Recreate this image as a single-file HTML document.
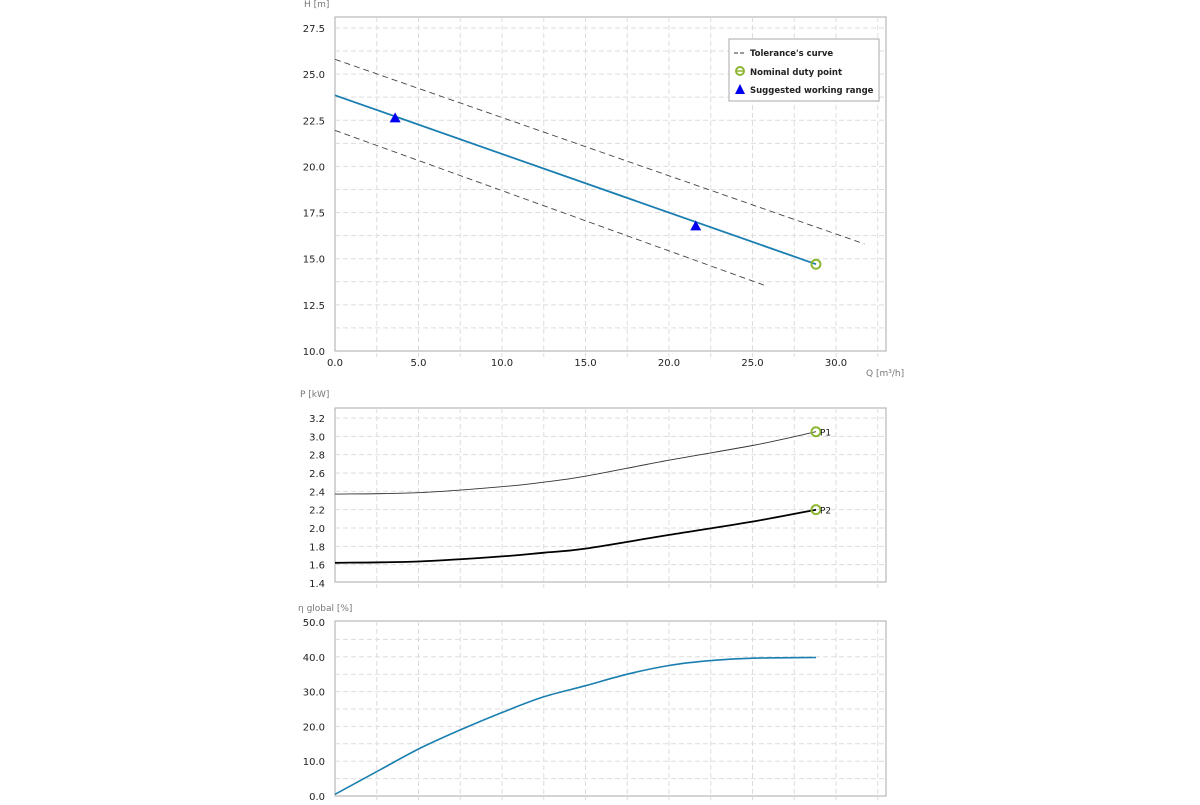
<!DOCTYPE html>
<html><head><meta charset="utf-8"><style>
body{margin:0;background:#fff;}
svg text{font-family:"DejaVu Sans","Liberation Sans",sans-serif;}
</style></head><body>
<svg id="s" width="1200" height="800" xmlns="http://www.w3.org/2000/svg"></svg>
<script>
const hQ=[0,28.8];
const hH=[23.85,14.7];
const tolUpQ=[0,31.7];
const tolUpH=[25.8,15.8];
const tolLoQ=[0,25.9];
const tolLoH=[21.95,13.5];
const rangeQ=[3.6,21.6];
const rangeH=[22.6,16.75];
const dutyQ=[28.8];
const dutyH=[14.7];
const pQ=[0,5,10,12.5,15,20,25,28.8];
const p1=[2.37,2.385,2.45,2.5,2.565,2.74,2.9,3.05];
const p2=[1.62,1.635,1.69,1.73,1.775,1.925,2.07,2.2];
const eQ=[0,2.5,5,7.5,10,12.5,15,17.5,20,22.5,25,28.8];
const eta=[0.5,7,13.5,19,24,28.5,31.7,35,37.5,38.9,39.6,39.8];
const xTicks=["0.0","5.0","10.0","15.0","20.0","25.0","30.0"];
const hTicks=["10.0","12.5","15.0","17.5","20.0","22.5","25.0","27.5"];
const pTicks=["1.4","1.6","1.8","2.0","2.2","2.4","2.6","2.8","3.0","3.2"];
const eTicks=["0.0","10.0","20.0","30.0","40.0","50.0"];

const NS="http://www.w3.org/2000/svg",S=document.getElementById('s');
function el(t,a,p){const e=document.createElementNS(NS,t);for(const k in a)e.setAttribute(k,a[k]);(p||S).appendChild(e);return e;}
const X=q=>335+q*16.7;
const L=335,R=886;
function panel(name,top,bot,y,ymin,ymax,minor,ticks,title,titleY){
  const g=el('g',{});
  el('rect',{x:L,y:top,width:R-L,height:bot-top,fill:'#fff',stroke:'#aaa','stroke-width':1},g);
  for(let q=2.5;q<33;q+=2.5){el('line',{x1:X(q),x2:X(q),y1:top,y2:bot+6,stroke:'#ddd','stroke-dasharray':'5,3'},g);}
  for(let v=ymin+minor;v<ymax+minor*1.5;v+=minor){const yy=y(v);if(yy>top+1&&yy<bot-1)el('line',{x1:L,x2:R,y1:yy,y2:yy,stroke:'#ddd','stroke-dasharray':'5,3'},g);}
  ticks.forEach(t=>{const tx=el('text',{x:325,y:y(parseFloat(t))+4,'font-size':10,'text-anchor':'end',fill:'#222'},g);tx.textContent=t;});
  const tt=el('text',{x:titleY[0],y:titleY[1],'font-size':9,fill:'#777'},g);tt.textContent=title;
  
  return g;
}
function poly(g,xs,ys,y,attrs,name,smooth){
  const P=xs.map((q,i)=>[X(q),y(ys[i])]);
  let d='M'+P[0][0].toFixed(1)+','+P[0][1].toFixed(1);
  for(let i=0;i<P.length-1;i++){
    if(!smooth){d+=' L'+P[i+1][0].toFixed(1)+','+P[i+1][1].toFixed(1);continue;}
    const p0=P[Math.max(i-1,0)],p1=P[i],p2=P[i+1],p3=P[Math.min(i+2,P.length-1)];
    const c1=[p1[0]+(p2[0]-p0[0])/6,p1[1]+(p2[1]-p0[1])/6],c2=[p2[0]-(p3[0]-p1[0])/6,p2[1]-(p3[1]-p1[1])/6];
    d+=` C${c1[0].toFixed(1)},${c1[1].toFixed(1)} ${c2[0].toFixed(1)},${c2[1].toFixed(1)} ${p2[0].toFixed(1)},${p2[1].toFixed(1)}`;
  }
  const p=el('path',Object.assign({d:d,fill:'none'},attrs),g);return p;}
function circ(g,q,v,y,name){const c=el('circle',{cx:X(q),cy:y(v),r:4.5,fill:'none',stroke:'#8db733','stroke-width':2},g);}

// H chart
const yH=v=>351-(v-10)*18.46;
const g1=panel('head',17,351,yH,10,28,1.25,hTicks,'H [m]',[304,7]);
xTicks.forEach(t=>{const tx=el('text',{x:X(parseFloat(t)),y:366,'font-size':10,'text-anchor':'middle',fill:'#222'},g1);tx.textContent=t;});
const qt=el('text',{x:866,y:376,'font-size':9,fill:'#777'},g1);qt.textContent='Q [m³/h]';
poly(g1,tolUpQ,tolUpH,yH,{stroke:'#444','stroke-dasharray':'6,4','stroke-width':0.9},'tolerance-upper');
poly(g1,tolLoQ,tolLoH,yH,{stroke:'#444','stroke-dasharray':'6,4','stroke-width':0.9},'tolerance-lower');
poly(g1,hQ,hH,yH,{stroke:'#1a7fb0','stroke-width':1.8},'head-curve');
rangeQ.forEach((q,i)=>{const x=X(q),yy=yH(rangeH[i]);const t=el('polygon',{points:`${x},${yy-6} ${x-5.5},${yy+4} ${x+5.5},${yy+4}`,fill:'#0000ee'},g1);});
dutyQ.forEach((q,i)=>circ(g1,q,dutyH[i],yH,'nominal-duty-point'));
const lg=el('g',{});
el('rect',{x:729,y:39,width:150,height:62,fill:'#fff',stroke:'#aaa'},lg);
el('line',{x1:734,x2:746,y1:53,y2:53,stroke:'#333','stroke-dasharray':'4,2'},lg);
el('circle',{cx:740,cy:71,r:4,fill:'none',stroke:'#8db733','stroke-width':2},lg);
el('line',{x1:736,x2:744,y1:71,y2:71,stroke:'#8db733','stroke-width':1.5},lg);
el('polygon',{points:'740,84 735,94 745,94',fill:'#0000ee'},lg);
[['Tolerance\'s curve',56],['Nominal duty point',75],['Suggested working range',93]].forEach(([t,yy])=>{const tx=el('text',{x:750,y:yy,'font-size':8.5,'font-weight':'bold',fill:'#222'},lg);tx.textContent=t;});

// P chart
const yP=v=>583-(v-1.4)*91.67;
const g2=panel('power',408,582,yP,1.4,3.3,0.2,pTicks,'P [kW]',[300,397]);
poly(g2,pQ,p1,yP,{stroke:'#333','stroke-width':0.9},'p1-curve',true);
poly(g2,pQ,p2,yP,{stroke:'#000','stroke-width':1.8},'p2-curve',true);
circ(g2,pQ[pQ.length-1],p1[p1.length-1],yP,'p1-duty-point');
circ(g2,pQ[pQ.length-1],p2[p2.length-1],yP,'p2-duty-point');
[['P1',p1],['P2',p2]].forEach(([n,a])=>{const tx=el('text',{x:X(pQ[pQ.length-1])+4,y:yP(a[a.length-1])+4,'font-size':9,fill:'#111'},g2);tx.textContent=n;});

// Efficiency chart
const yE=v=>796-v*3.48;
const g3=panel('efficiency',621,796,yE,0,50,5,eTicks,'η global [%]',[298,611]);
poly(g3,eQ,eta,yE,{stroke:'#1a7fb0','stroke-width':1.6},'efficiency-curve',true);
</script>
</body></html>
